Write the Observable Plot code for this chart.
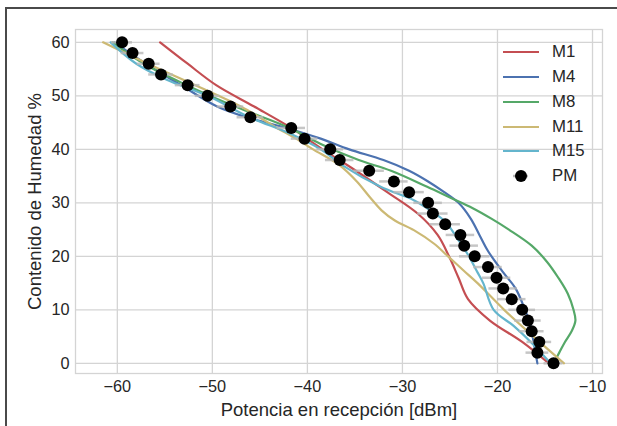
<!DOCTYPE html>
<html><head><meta charset="utf-8">
<script src="https://cdn.jsdelivr.net/npm/d3@7"></script>
<script src="https://cdn.jsdelivr.net/npm/@observablehq/plot@0.6"></script>
<style>
body{margin:0;background:#fff;font-family:"Liberation Sans",Arial,sans-serif;}
#wrap{position:relative;width:617px;height:426px;overflow:hidden;background:#fff;}
#border{position:absolute;left:5px;top:7px;width:900px;height:900px;border-left:2px solid #4a4a4a;border-top:2px solid #4a4a4a;box-sizing:border-box;pointer-events:none;}
#legend{position:absolute;left:0;top:0;width:617px;height:426px;pointer-events:none;}
.row{position:absolute;left:500px;height:20px;display:flex;align-items:center;}
.row span{font-size:16.8px;color:#262626;margin-left:12px;}
</style>
</head><body>
<div id="wrap"><div id="chart"></div><div id="legend"></div><div id="border"></div></div>
<script>
// Tick values
const xTicks = [-60, -50, -40, -30, -20, -10];
const yTicks = [0, 10, 20, 30, 40, 50, 60];

// Series names and colors
const seriesNames = ["M1", "M4", "M8", "M11", "M15"];
const seriesColors = ["#C44E52", "#4C72B0", "#55A868", "#CCB974", "#64B5CD"];

// M1
const m1X = [-55.5, -52.6, -49.6, -45.6, -41.7, -38.4, -34.9, -31.6, -28.4, -26.3, -25.1, -24.1, -23.1, -20.8, -17.4, -14.6];
const m1Y = [60, 56, 52, 48, 44, 40, 36, 32, 28, 24, 20, 16, 12, 8, 4, 0];
// M4
const m4X = [-60.3, -57.0, -53.3, -49.5, -46.4, -42.2, -38.6, -35.6, -32.0, -29.3, -27.3, -25.6, -24.1, -22.8, -21.9, -21.0, -19.4, -18.1, -17.1, -16.5, -16.2, -15.8];
const m4Y = [60, 56, 52, 48, 46, 44, 42, 40, 38, 36, 34, 32, 30, 27, 24, 21, 17, 14, 10, 7, 4, 0];
// M8
const m8X = [-60.5, -57.2, -52.7, -47.6, -41.9, -38.6, -34.6, -31.2, -27.4, -25.0, -22.6, -20.6, -18.8, -16.4, -14.8, -13.6, -12.6, -12.0, -11.8, -12.2, -12.9, -13.5, -14.1];
const m8Y = [60, 56, 52, 48, 44, 41, 38, 36, 33, 31, 29, 27, 25, 22, 19, 16, 13, 10, 8, 6, 4, 2, 0];
// M11
const m11X = [-61.5, -56.8, -51.8, -47.0, -43.2, -41.2, -39.4, -36.6, -34.8, -33.4, -32.2, -30.8, -28.8, -26.7, -25.2, -23.6, -22.1, -19.3, -16.2, -13.0];
const m11Y = [60, 56, 52, 48, 44, 42, 40, 37, 34, 31, 28.6, 26.7, 24.9, 22.4, 20, 17.4, 15, 10, 5, 0];
// M15
const m15X = [-60.7, -58.0, -54.8, -50.5, -46.1, -41.9, -38.6, -36.3, -32.3, -28.8, -27.0, -25.5, -24.1, -23.0, -22.1, -21.5, -20.4, -18.3, -16.5, -14.4];
const m15Y = [60, 56, 53, 50, 46, 43, 40, 37, 33, 30.5, 28.5, 26.5, 23, 20, 17, 15, 10, 7, 4, 0];

// PM (mean points with horizontal error)
const pmY = [0, 2, 4, 6, 8, 10, 12, 14, 16, 18, 20, 22, 24, 26, 28, 30, 32, 34, 36, 38, 40, 42, 44, 46, 48, 50, 52, 54, 56, 58, 60];
const pmX = [-14.1, -15.8, -15.6, -16.4, -16.8, -17.4, -18.5, -19.4, -20.1, -21.0, -22.4, -23.5, -23.9, -25.5, -26.8, -27.3, -29.3, -30.9, -33.5, -36.6, -37.6, -40.3, -41.7, -46.0, -48.1, -50.5, -52.6, -55.4, -56.7, -58.4, -59.5];
const pmErr = [1.0, 1.2, 1.3, 1.3, 1.4, 1.4, 1.5, 1.5, 1.5, 1.5, 1.6, 1.5, 1.5, 1.6, 1.6, 1.5, 1.6, 1.5, 1.6, 1.5, 1.4, 1.4, 1.5, 1.4, 1.4, 1.3, 1.3, 1.3, 1.2, 1.2, 1.1];

const seriesX = [m1X, m4X, m8X, m11X, m15X];
const seriesY = [m1Y, m4Y, m8Y, m11Y, m15Y];
const curves = seriesNames.flatMap((name, i) => seriesX[i].map((x, j) => ({series: name, order: j, x, y: seriesY[i][j]})));
const pm = pmY.map((y, i) => ({x: pmX[i], y, e: pmErr[i]}));
const fmt = d => d < 0 ? "\u2212" + Math.abs(d) : String(d);

const gridColor = "#d4d4d4";
const textColor = "#262626";
const chart = Plot.plot({
  width: 617, height: 426,
  marginLeft: 75, marginRight: 15, marginTop: 29, marginBottom: 53,
  style: {fontFamily: "Liberation Sans, Arial, sans-serif", fontSize: "16px", color: textColor, background: "transparent"},
  x: {domain: [-64.4, -8.95], axis: null},
  y: {domain: [-1.9, 62.4], axis: null},
  marks: [
    Plot.gridX(xTicks, {stroke: gridColor, strokeOpacity: 1, strokeWidth: 1.3}),
    Plot.gridY(yTicks, {stroke: gridColor, strokeOpacity: 1, strokeWidth: 1.3}),
    Plot.frame({stroke: gridColor, strokeWidth: 1.3}),
    ...seriesNames.map((name, i) => Plot.line(curves.filter(d => d.series === name), {x: "x", y: "y", stroke: seriesColors[i], strokeWidth: 2.2, curve: "catmull-rom"})),
    Plot.ruleY(pm, {y: "y", x1: d => d.x - d.e, x2: d => d.x + d.e, stroke: "#b8b8b8", strokeWidth: 2.5, strokeOpacity: 0.8}),
    Plot.dot(pm, {x: "x", y: "y", r: 6, fill: "black", stroke: "none"}),
    // tick labels
    Plot.text(xTicks, {x: d => d, text: fmt, frameAnchor: "bottom", lineAnchor: "middle", dy: 13, fontSize: 16.3, fill: textColor}),
    Plot.text(yTicks, {y: d => d, text: fmt, frameAnchor: "left", textAnchor: "end", lineAnchor: "middle", dx: -6, fontSize: 16.3, fill: textColor}),
    // axis titles
    Plot.text(["Potencia en recepción [dBm]"], {frameAnchor: "bottom", lineAnchor: "middle", dy: 37, fontSize: 18.5, fill: textColor}),
    Plot.text(["Contenido de Humedad %"], {frameAnchor: "left", dx: -40, rotate: -90, textAnchor: "middle", fontSize: 18.5, fill: textColor})
  ]
});
document.getElementById("chart").appendChild(chart);

// Legend
const legend = document.getElementById("legend");
const rowTop = 52.3, rowStep = 24.75;
const items = seriesNames.map((n, i) => ({name: n, color: seriesColors[i], type: "line"})).concat([{name: "PM", color: "black", type: "dot"}]);
items.forEach((it, i) => {
  const row = document.createElement("div");
  row.className = "row";
  row.style.top = (rowTop + i * rowStep - 10) + "px";
  const sw = it.type === "line"
    ? `<svg width="40" height="20"><line x1="3" x2="39" y1="10" y2="10" stroke="${it.color}" stroke-width="2.2"/></svg>`
    : `<svg width="40" height="20"><line x1="13" x2="28" y1="10" y2="10" stroke="#b8b8b8" stroke-width="2.5"/><circle cx="21" cy="10" r="6" fill="black"/></svg>`;
  row.innerHTML = sw + `<span>${it.name}</span>`;
  legend.appendChild(row);
});
</script>
</body></html>
